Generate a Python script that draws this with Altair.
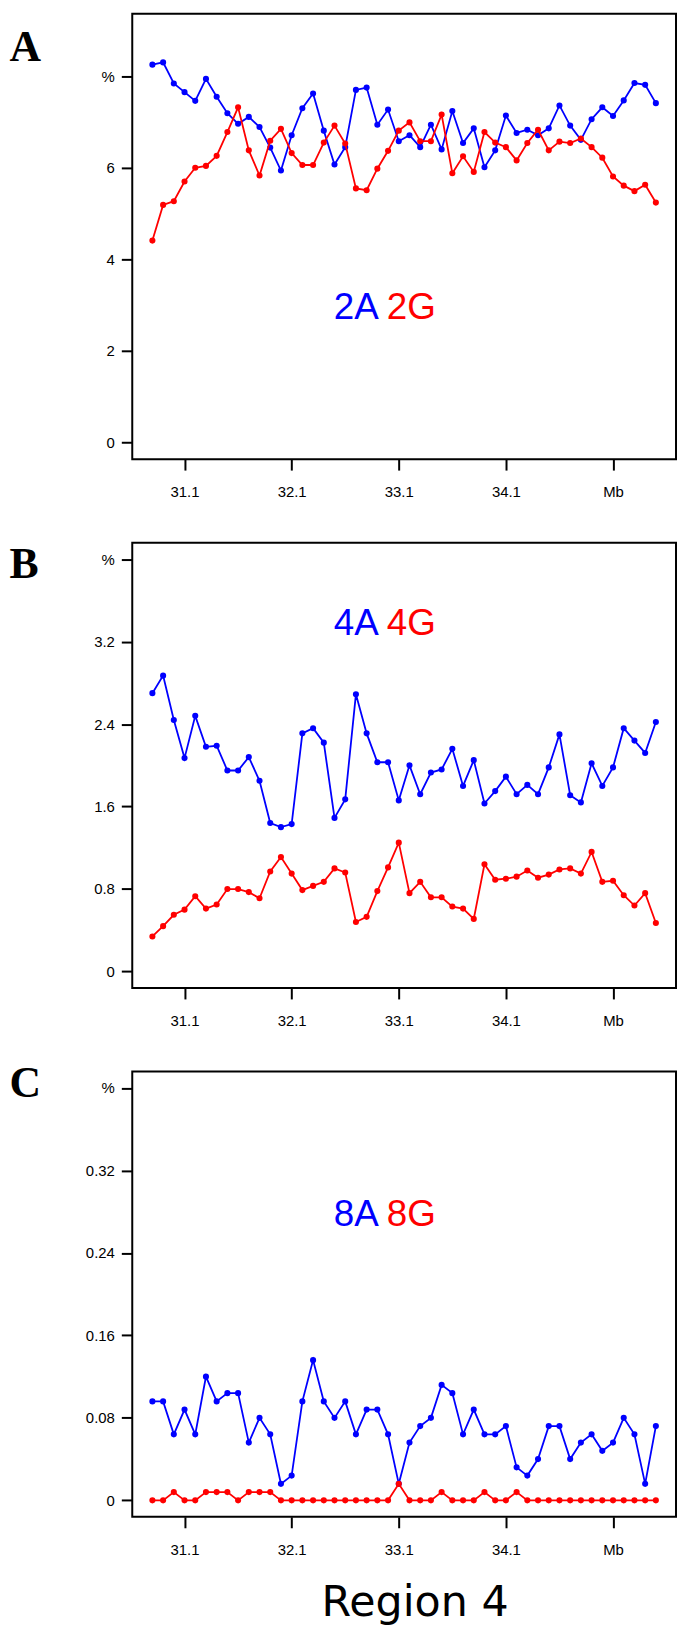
import altair as alt
import pandas as pd

# ---------------- data ----------------
POS_MB = [30.8, 30.9, 31.0, 31.1, 31.2, 31.3, 31.4, 31.5, 31.6, 31.7,
          31.8, 31.9, 32.0, 32.1, 32.2, 32.3, 32.4, 32.5, 32.6, 32.7,
          32.8, 32.9, 33.0, 33.1, 33.2, 33.3, 33.4, 33.5, 33.6, 33.7,
          33.8, 33.9, 34.0, 34.1, 34.2, 34.3, 34.4, 34.5, 34.6, 34.7,
          34.8, 34.9, 35.0, 35.1, 35.2, 35.3, 35.4, 35.5]

A2 = [8.25, 8.30, 7.84, 7.65, 7.46, 7.94, 7.55, 7.19, 6.96, 7.11,
      6.89, 6.44, 5.94, 6.71, 7.30, 7.62, 6.81, 6.07, 6.45, 7.70,
      7.75, 6.94, 7.27, 6.58, 6.71, 6.45, 6.94, 6.40, 7.24, 6.54,
      6.86, 6.01, 6.38, 7.14, 6.76, 6.83, 6.71, 6.86, 7.36, 6.92,
      6.61, 7.06, 7.32, 7.13, 7.47, 7.85, 7.81, 7.41]
G2 = [4.41, 5.19, 5.27, 5.70, 6.00, 6.04, 6.26, 6.78, 7.32, 6.38,
      5.83, 6.59, 6.85, 6.32, 6.06, 6.06, 6.55, 6.92, 6.53, 5.55,
      5.51, 5.98, 6.37, 6.81, 6.99, 6.58, 6.58, 7.16, 5.88, 6.25,
      5.91, 6.78, 6.55, 6.45, 6.16, 6.54, 6.83, 6.38, 6.57, 6.54,
      6.64, 6.45, 6.22, 5.81, 5.61, 5.49, 5.63, 5.24]

A4 = [2.70, 2.87, 2.44, 2.07, 2.48, 2.18, 2.19, 1.95, 1.95, 2.08,
      1.85, 1.44, 1.40, 1.43, 2.31, 2.36, 2.22, 1.49, 1.67, 2.69,
      2.31, 2.03, 2.03, 1.66, 2.00, 1.72, 1.93, 1.96, 2.16, 1.80,
      2.05, 1.63, 1.75, 1.89, 1.72, 1.81, 1.72, 1.98, 2.30, 1.71,
      1.64, 2.02, 1.80, 1.98, 2.36, 2.24, 2.12, 2.42]
G4 = [0.34, 0.44, 0.55, 0.60, 0.73, 0.61, 0.65, 0.80, 0.80, 0.77,
      0.71, 0.97, 1.11, 0.95, 0.79, 0.83, 0.87, 1.00, 0.96, 0.48,
      0.53, 0.78, 1.01, 1.25, 0.76, 0.87, 0.72, 0.72, 0.63, 0.61,
      0.51, 1.04, 0.89, 0.90, 0.92, 0.98, 0.91, 0.94, 0.99, 1.00,
      0.95, 1.16, 0.87, 0.88, 0.74, 0.64, 0.76, 0.47]

A8 = [0.096, 0.096, 0.064, 0.088, 0.064, 0.120, 0.096, 0.104, 0.104, 0.056,
      0.080, 0.064, 0.016, 0.024, 0.096, 0.136, 0.096, 0.080, 0.096, 0.064,
      0.088, 0.088, 0.064, 0.016, 0.056, 0.072, 0.080, 0.112, 0.104, 0.064,
      0.088, 0.064, 0.064, 0.072, 0.032, 0.024, 0.040, 0.072, 0.072, 0.040,
      0.056, 0.064, 0.048, 0.056, 0.080, 0.064, 0.016, 0.072]
G8 = [0, 0, 0.008, 0, 0, 0.008, 0.008, 0.008, 0, 0.008,
      0.008, 0.008, 0, 0, 0, 0, 0, 0, 0, 0,
      0, 0, 0, 0.016, 0, 0, 0, 0.008, 0, 0,
      0, 0.008, 0, 0, 0.008, 0, 0, 0, 0, 0,
      0, 0, 0, 0, 0, 0, 0, 0]

X_TICKS = [31.1, 32.1, 33.1, 34.1, 35.1]
X_TICK_LABELS = ["31.1", "32.1", "33.1", "34.1", "Mb"]
Y_TICKS_A = [0, 2, 4, 6, 8]
Y_TICKS_B = [0, 0.8, 1.6, 2.4, 3.2, 4.0]
Y_TICKS_C = [0, 0.08, 0.16, 0.24, 0.32, 0.40]

BLUE = "#0000FF"
RED = "#FF0000"
LABEL_FONT = "Liberation Sans"
NBSP = "\u00a0"

X_DOMAIN = [30.612, 35.688]
W, H = 547, 448


def panel(a_vals, g_vals, a_txt, g_txt, y_domain, y_ticks, pct_value, pct_pad,
          letter, letter_y, text_y, x_title=None):
    df = pd.DataFrame({
        "mb": POS_MB * 2,
        "val": list(a_vals) + list(g_vals),
        "series": ["A"] * len(a_vals) + ["G"] * len(g_vals),
    })
    lbl_map = "{" + ",".join(f"'{v}':'{t}'" for v, t in zip(X_TICKS, X_TICK_LABELS)) + "}"
    x_axis_kw = dict(
        values=X_TICKS,
        labelExpr=f"{lbl_map}[toString(datum.value)] || datum.label",
        tickSize=11, tickWidth=2, tickColor="black", domain=False, grid=False,
        labelFont=LABEL_FONT, labelFontSize=15, labelColor="black", labelPadding=15,
    )
    if x_title:
        x_axis_kw.update(title=x_title, titleFont="DejaVu Sans", titleFontSize=43,
                         titleFontWeight="normal", titleColor="black",
                         titleX=284, titleY=99, titleAlign="center",
                         titleBaseline="alphabetic")
    else:
        x_axis_kw.update(title=None)
    x_enc = alt.X("mb:Q", scale=alt.Scale(domain=X_DOMAIN, nice=False, zero=False),
                  axis=alt.Axis(**x_axis_kw))
    y_enc = alt.Y("val:Q", scale=alt.Scale(domain=y_domain, nice=False, zero=False),
                  axis=alt.Axis(
                      values=y_ticks,
                      labelExpr=f"abs(datum.value - {pct_value}) < 1e-9 ? '%{NBSP * pct_pad}' : format(datum.value, '~g')",
                      tickSize=11, tickWidth=2, tickColor="black", domain=False, grid=False,
                      labelFont=LABEL_FONT, labelFontSize=15, labelColor="black", labelPadding=7,
                      title=letter, titleAngle=0, titleFont="Liberation Serif",
                      titleFontSize=44, titleFontWeight="bold", titleColor="black",
                      titleAlign="left", titleBaseline="middle", titleX=-124, titleY=letter_y,
                  ))
    base = alt.Chart(df)
    layers = []
    for s, col in (("A", BLUE), ("G", RED)):
        sub = base.transform_filter(alt.datum.series == s)
        layers.append(sub.mark_line(color=col, strokeWidth=1.8).encode(x=x_enc, y=y_enc))
        layers.append(sub.mark_circle(color=col, size=38, opacity=1).encode(x=x_enc, y=y_enc))
    tdf = pd.DataFrame({"mb": [32.95], "val": [text_y], "ta": [a_txt], "tg": [g_txt]})
    tb = alt.Chart(tdf)
    layers.append(tb.mark_text(color=BLUE, align="right", baseline="middle", dx=-4,
                               font=LABEL_FONT, fontSize=37).encode(x=x_enc, y=y_enc, text="ta:N"))
    layers.append(tb.mark_text(color=RED, align="left", baseline="middle", dx=4,
                               font=LABEL_FONT, fontSize=37).encode(x=x_enc, y=y_enc, text="tg:N"))
    return alt.layer(*layers).properties(width=W, height=H)


pA = panel(A2, G2, "2A", "2G", [-0.36, 9.36], Y_TICKS_A, 8, 0, "A", 34, 2.93)
pB = panel(A4, G4, "4A", "4G", [-0.16, 4.16], Y_TICKS_B, 4.0, 2, "B", 22, 3.37)
pC = panel(A8, G8, "8A", "8G", [-0.016, 0.416], Y_TICKS_C, 0.40, 4, "C", 12, 0.277,
           x_title="Region 4")

chart = alt.vconcat(pA, pB, pC, spacing=84, bounds="flush").properties(
    padding={"left": 0, "top": 0, "right": 0, "bottom": 2}
).configure_view(stroke="black", strokeWidth=2)

chart.save("out.html", embed_options={"renderer": "svg", "actions": False})
